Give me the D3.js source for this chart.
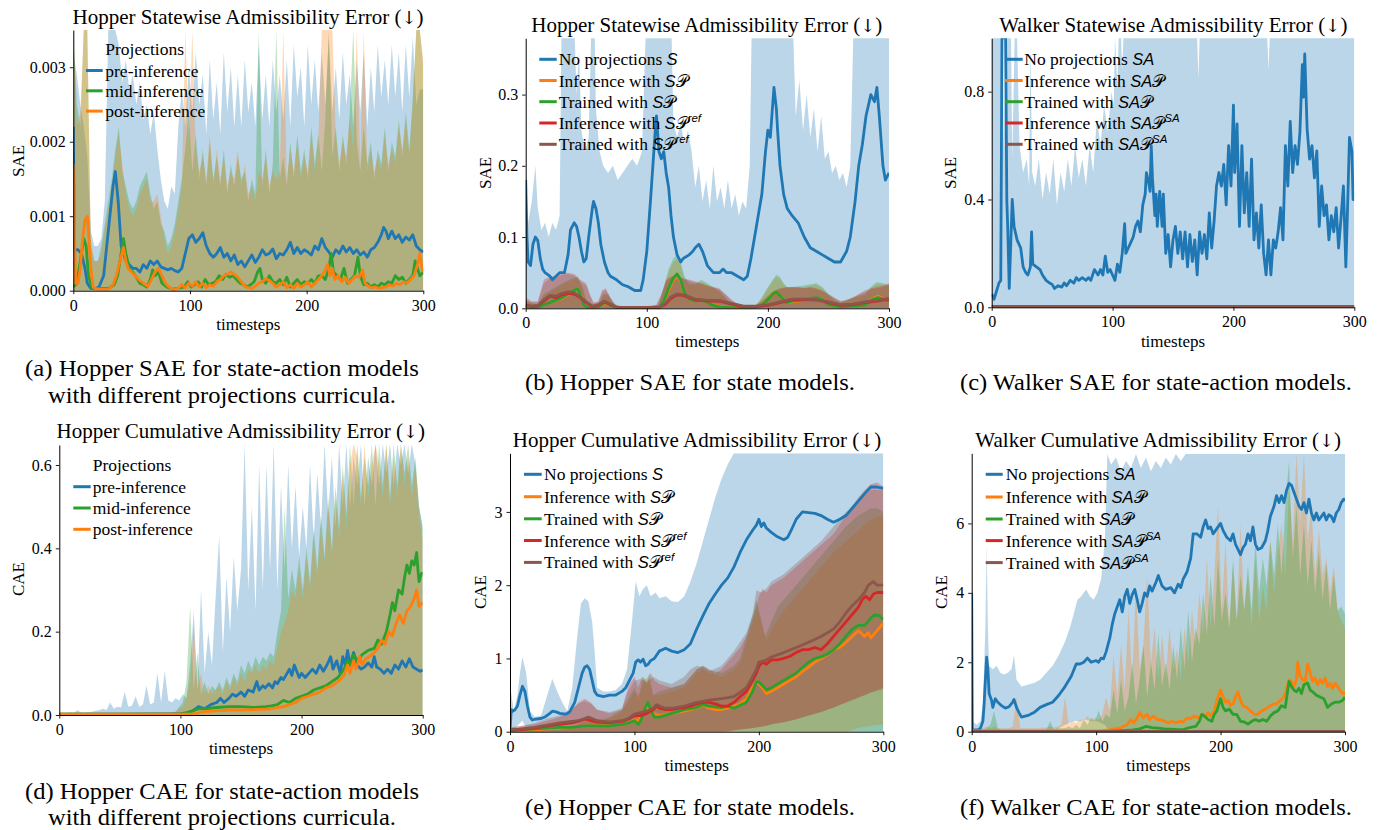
<!DOCTYPE html>
<html><head><meta charset="utf-8">
<script src="https://cdn.jsdelivr.net/npm/d3@7/dist/d3.min.js"></script>
<style>
html,body{margin:0;padding:0;background:#fff;}
svg{display:block;}
text{font-family:"Liberation Serif","Times New Roman",serif;fill:#000;white-space:pre;}
.tick text{font-size:16px;font-family:"Liberation Serif",serif;}
.title{font-size:21px;}
.arrow{font-family:"DejaVu Serif","DejaVu Sans",serif;font-size:18px;fill:#000;}
.axlab{font-size:17px;}
.leg{font-size:17.5px;}
.math{font-family:"Liberation Sans",sans-serif;font-style:italic;font-size:16.5px;}
.cal{font-family:"DejaVu Sans","Noto Sans",serif;font-style:normal;font-size:16.5px;}
.cap{font-size:23px;}
</style></head><body>
<svg id="chart" width="1380" height="830"></svg>
<script>
// ---------------- DATA ----------------
const xTicks=[0,100,200,300];
const COL={blue:'#1f77b4',orange:'#ff7f0e',green:'#2ca02c',red:'#d62728',brown:'#8c564b'};

// (a) Hopper SAE, state-action, projection curricula
const aPre=[[0,0.0022],[1,0.00055],[4,0.00055],[7,0.0005],[10,0.0003],[12,0.0001],[15,0.00003],[19,0.00003],[22,0.00005],[26,0.0002],[30,0.0008],[34,0.0014],[36,0.0016],[38.5,0.0012],[41,0.0006],[45,0.0004],[48,0.00035],[51,0.0003],[54,0.0003],[57,0.00025],[60,0.00035],[63,0.0003],[66,0.0004],[69,0.00035],[72,0.0004],[75,0.00032],[78,0.0003],[81,0.00028],[84,0.0003],[87,0.00027],[90,0.00025],[93,0.0003],[96,0.0005],[99,0.0007],[102,0.00075],[105,0.00065],[108,0.0007],[111,0.00078],[114,0.0006],[117,0.0005],[120,0.00045],[123,0.0005],[126,0.00058],[129,0.00045],[132,0.0005],[135,0.0004],[138,0.00048],[141,0.00035],[144,0.0004],[147,0.00032],[150,0.0004],[153,0.00048],[156,0.00038],[159,0.00045],[162,0.00055],[165,0.00048],[168,0.0005],[171,0.00056],[174,0.00043],[177,0.0005],[180,0.00048],[183,0.00055],[186,0.00065],[189,0.0005],[192,0.00058],[195,0.0005],[198,0.00055],[201,0.00052],[204,0.00048],[207,0.0006],[210,0.00055],[213,0.0007],[216,0.00058],[219,0.00052],[222,0.00045],[225,0.00055],[228,0.0005],[231,0.0006],[234,0.00052],[237,0.00058],[240,0.0005],[243,0.00055],[246,0.00048],[249,0.00052],[252,0.00045],[255,0.00055],[258,0.00058],[261,0.00065],[264,0.00075],[266,0.00085],[268,0.0008],[270,0.0007],[273,0.0008],[276,0.0007],[279,0.00075],[282,0.00065],[285,0.00072],[288,0.00068],[291,0.00075],[294,0.0006],[297,0.00055],[300,0.00052]];
const aMid=[[0,0.00005],[3,0.0001],[6,0.0004],[9,0.0007],[11,0.0006],[13,0.0002],[16,0.00003],[30,0.00003],[35,0.00008],[38,0.0002],[40,0.0004],[43,0.0007],[45,0.0005],[48,0.0003],[51,0.00025],[54,0.00018],[57,0.0001],[60,0.00008],[63,0.00005],[66,0.00015],[68,0.00028],[70,0.0002],[73,0.00025],[76,0.0001],[80,0.00005],[85,0.00002],[90,0.00003],[95,0.00005],[98,0.00012],[101,0.00005],[104,0.00008],[107,0.00012],[110,0.00005],[113,0.00015],[116,0.00008],[119,0.0001],[122,0.00012],[125,0.0002],[128,0.00015],[131,0.00022],[134,0.00018],[137,0.0002],[140,0.00015],[143,0.0001],[146,0.00008],[149,0.00005],[152,0.00008],[155,0.00012],[158,0.00025],[160,0.0003],[162,0.00015],[165,0.0001],[168,0.0002],[171,0.00012],[174,0.0001],[177,0.00015],[180,0.00008],[183,0.00018],[186,0.00005],[189,0.0001],[192,0.00015],[195,0.00008],[198,0.00012],[201,0.0001],[204,0.00015],[207,0.0001],[210,0.0002],[213,0.0002],[216,0.00015],[219,0.0003],[221,0.0005],[223,0.00025],[226,0.0002],[229,0.00015],[232,0.0003],[235,0.0001],[238,0.00015],[241,0.0002],[244,0.00045],[246,0.0002],[249,0.00008],[252,0.0001],[255,0.00005],[258,0.00008],[261,0.00005],[264,0.0001],[267,0.00008],[270,0.00012],[273,0.0001],[276,0.0002],[279,0.00015],[282,0.00018],[285,0.0001],[288,0.00015],[291,0.0002],[293,0.0004],[295,0.0003],[297,0.0002],[300,0.00025]];
const aPost=[[0,0.0017],[1,0.0008],[2,0.0001],[4,0.0001],[6,0.0003],[8,0.0007],[10,0.00095],[12,0.001],[13,0.0008],[15,0.0003],[17,0.00005],[20,0.00002],[30,0.00002],[34,0.00008],[37,0.0002],[40,0.0004],[43,0.00058],[45,0.0004],[47,0.0003],[50,0.00025],[53,0.0002],[56,0.00015],[60,0.0001],[64,0.00006],[67,0.00015],[70,0.00025],[73,0.0003],[76,0.0002],[79,0.0001],[82,0.00005],[86,0.00001],[90,0.00003],[93,0.00008],[96,0.00004],[99,0.0001],[102,0.00006],[105,0.00012],[108,0.00005],[111,0.0001],[114,0.00004],[117,0.00008],[120,0.00006],[123,0.00012],[126,0.00015],[129,0.0002],[132,0.00022],[135,0.00025],[138,0.00022],[141,0.00018],[144,0.00012],[147,0.00006],[150,0.00004],[153,0.00003],[156,0.00006],[159,0.0001],[162,0.00012],[165,0.00016],[168,0.00014],[171,0.0001],[174,0.00005],[177,0.00008],[180,0.00012],[183,0.00004],[186,0.00008],[189,0.00003],[192,0.0001],[195,0.00005],[198,0.00008],[201,0.00012],[204,0.00005],[207,0.0001],[210,0.00015],[213,0.0002],[216,0.00028],[218,0.00035],[220,0.0002],[222,0.0003],[224,0.00015],[227,0.0002],[230,0.00012],[233,0.00018],[236,0.0001],[239,0.00015],[242,0.0002],[245,0.00018],[248,0.00028],[250,0.0001],[253,0.00006],[256,0.00004],[259,0.00005],[262,0.00003],[265,0.00004],[268,0.00005],[271,0.00008],[274,0.00006],[277,0.0001],[280,0.00008],[283,0.00012],[286,0.0001],[289,0.00015],[292,0.0002],[295,0.00035],[297,0.0005],[299,0.0003],[300,0.00025]];
// band upper envelopes, evenly spaced over 0..300 (lower bound 0)
const aPreUpper=[0.0032,0.0029,0.0025,0.0022,0.0018,0.0008,0.0006,0.0006,0.0007,0.0012,0.0035,0.0035,0.0035,0.0033,0.0028,0.0031,0.0027,0.0029,0.0025,0.0028,0.0023,0.0025,0.0021,0.0024,0.0019,0.0015,0.0012,0.0011,0.0014,0.0013,0.0022,0.0027,0.0022,0.003,0.0024,0.0032,0.0025,0.0029,0.0021,0.0031,0.0023,0.0028,0.0021,0.0032,0.0024,0.003,0.0022,0.0029,0.0022,0.0031,0.0024,0.0028,0.0022,0.0033,0.0023,0.0029,0.0022,0.0031,0.0024,0.0029,0.0023,0.0031,0.0022,0.0033,0.0026,0.003,0.0022,0.0033,0.0025,0.0031,0.0024,0.0032,0.0025,0.0034,0.0024,0.003,0.0023,0.0032,0.0025,0.0029,0.0022,0.0031,0.0024,0.0032,0.0022,0.003,0.0024,0.0033,0.0026,0.0031,0.0025,0.0033,0.0026,0.0032,0.0024,0.0033,0.0026,0.0034,0.0025,0.0027,0.0027];
const aMidUpper=[0.0035,0.0025,0.0022,0.0035,0.0035,0.0006,0.0004,0.0004,0.0006,0.0009,0.0012,0.0015,0.0019,0.0022,0.0016,0.0014,0.0012,0.0011,0.0012,0.0014,0.0015,0.0016,0.0013,0.0011,0.0012,0.0009,0.0008,0.0006,0.0007,0.0009,0.0012,0.0015,0.0019,0.0024,0.0016,0.0021,0.0015,0.0019,0.0014,0.002,0.0015,0.0018,0.0014,0.0019,0.0013,0.0017,0.0014,0.0018,0.0015,0.0016,0.0012,0.0015,0.0013,0.0035,0.0014,0.0019,0.0013,0.0017,0.0035,0.0015,0.0018,0.0014,0.002,0.0015,0.0021,0.0016,0.0019,0.0015,0.0022,0.0017,0.0021,0.0016,0.0023,0.0035,0.0018,0.0022,0.0016,0.0021,0.0017,0.0024,0.0035,0.002,0.0016,0.0022,0.0017,0.002,0.0015,0.0019,0.0017,0.0022,0.0016,0.002,0.0018,0.0023,0.0018,0.0024,0.0019,0.0026,0.0035,0.0035,0.003];
const aPostUpper=[0.0035,0.0022,0.0024,0.0035,0.0035,0.0007,0.0004,0.0004,0.0005,0.0008,0.0011,0.0014,0.0018,0.0021,0.0017,0.0013,0.0011,0.001,0.0011,0.0013,0.0014,0.0015,0.0012,0.0012,0.0013,0.001,0.0007,0.0005,0.0006,0.0008,0.0011,0.0014,0.0035,0.002,0.0035,0.0019,0.0016,0.0018,0.0015,0.0021,0.0014,0.0019,0.0015,0.0018,0.0014,0.0016,0.0015,0.0019,0.0014,0.0017,0.0013,0.0014,0.0012,0.0016,0.0015,0.0018,0.0014,0.0016,0.0015,0.0016,0.0035,0.0015,0.0019,0.0016,0.002,0.0015,0.0018,0.0016,0.0021,0.0016,0.002,0.0035,0.0035,0.0035,0.0035,0.0021,0.0017,0.002,0.0018,0.0023,0.0019,0.0035,0.0017,0.0035,0.0016,0.0019,0.0016,0.0018,0.0016,0.0021,0.0017,0.0019,0.0017,0.0022,0.0019,0.0023,0.0018,0.0025,0.0035,0.0035,0.0031];

// (b) Hopper SAE, state models
const bNoProj=[[0,0.18],[1,0.1],[2,0.065],[4,0.06],[6,0.09],[8,0.1],[10,0.095],[12,0.07],[14,0.055],[16,0.05],[20,0.045],[22,0.04],[25,0.045],[28,0.05],[32,0.05],[35,0.075],[37,0.11],[40,0.12],[42,0.115],[44,0.1],[46,0.08],[48,0.065],[50,0.07],[52,0.1],[55,0.14],[56,0.15],[58,0.14],[60,0.12],[62,0.09],[65,0.065],[68,0.05],[70,0.045],[75,0.04],[80,0.033],[85,0.03],[90,0.025],[95,0.025],[97,0.04],[100,0.08],[103,0.15],[105,0.2],[107,0.25],[108,0.27],[110,0.22],[112,0.21],[114,0.22],[116,0.19],[118,0.17],[120,0.13],[122,0.1],[125,0.075],[128,0.065],[130,0.07],[135,0.075],[138,0.08],[140,0.085],[143,0.09],[146,0.08],[150,0.06],[155,0.05],[160,0.05],[163,0.055],[166,0.05],[170,0.05],[175,0.045],[180,0.04],[183,0.045],[186,0.07],[190,0.11],[193,0.14],[195,0.16],[198,0.22],[200,0.25],[202,0.24],[205,0.31],[207,0.28],[208,0.25],[210,0.2],[213,0.16],[216,0.14],[220,0.13],[225,0.12],[230,0.1],[235,0.085],[240,0.08],[245,0.075],[250,0.07],[255,0.065],[260,0.065],[265,0.08],[268,0.1],[272,0.15],[275,0.2],[278,0.23],[281,0.27],[285,0.3],[288,0.29],[290,0.31],[292,0.27],[295,0.2],[297,0.18],[300,0.19]];
const bNoProjBand=[[0,0.2],[2,0.12],[5,0.15],[8,0.2],[10,0.14],[13,0.11],[16,0.12],[19,0.1],[22,0.12],[25,0.11],[28,0.13],[29.5,0.38],[40.5,0.38],[42,0.3],[44,0.36],[46,0.25],[49,0.22],[52,0.24],[54,0.38],[57,0.38],[58,0.28],[61,0.22],[64,0.2],[68,0.19],[72,0.2],[76,0.18],[80,0.19],[84,0.2],[88,0.21],[92,0.2],[96,0.22],[99,0.38],[120.5,0.38],[122,0.26],[125,0.24],[128,0.26],[131,0.23],[134,0.25],[137,0.22],[140,0.17],[143,0.2],[146,0.15],[149,0.18],[152,0.14],[155,0.2],[158,0.15],[161,0.17],[164,0.14],[167,0.18],[170,0.14],[173,0.16],[176,0.13],[179,0.15],[182,0.14],[185,0.2],[186.5,0.38],[221,0.38],[223,0.27],[226,0.32],[229,0.25],[232,0.3],[235,0.24],[238,0.28],[241,0.22],[244,0.27],[247,0.21],[250,0.22],[253,0.19],[256,0.2],[259,0.18],[262,0.19],[265,0.17],[268,0.2],[270.5,0.38],[300,0.38]];
const bInfSP=[[0,0.002],[10,0.002],[15,0.005],[20,0.008],[30,0.014],[38,0.022],[43,0.025],[46,0.018],[49,0.005],[52,0.001],[60,0.001],[64,0.006],[67,0.007],[71,0.003],[76,0.0005],[110,0.0005],[114,0.008],[118,0.025],[122,0.04],[125,0.046],[128,0.038],[131,0.02],[135,0.013],[140,0.01],[145,0.012],[150,0.008],[155,0.005],[160,0.003],[170,0.001],[190,0.001],[196,0.006],[200,0.012],[204,0.02],[207,0.023],[211,0.016],[215,0.008],[220,0.009],[230,0.011],[240,0.014],[245,0.012],[250,0.005],[260,0.002],[270,0.003],[280,0.006],[287,0.014],[291,0.017],[295,0.014],[300,0.011]];
const bInfSPBand=[[0,0.01],[10,0.005],[15,0.018],[20,0.023],[30,0.033],[38,0.04],[43,0.042],[47,0.028],[50,0.01],[55,0.003],[60,0.005],[64,0.018],[68,0.018],[72,0.007],[78,0.002],[100,0.002],[110,0.005],[114,0.028],[118,0.05],[122,0.065],[125,0.068],[128,0.06],[131,0.042],[135,0.033],[140,0.033],[145,0.037],[150,0.033],[155,0.028],[160,0.023],[165,0.014],[170,0.005],[180,0.002],[190,0.004],[195,0.014],[200,0.028],[204,0.038],[207,0.044],[210,0.041],[213,0.033],[216,0.028],[220,0.028],[230,0.03],[240,0.033],[245,0.028],[250,0.018],[255,0.011],[260,0.007],[270,0.014],[280,0.018],[285,0.028],[290,0.034],[295,0.033],[300,0.031]];
const bTrSP=[[0,0.001],[10,0.001],[15,0.005],[20,0.008],[30,0.015],[37,0.022],[41,0.026],[43,0.027],[45,0.02],[48,0.005],[51,0.001],[60,0.001],[64,0.007],[67,0.008],[71,0.003],[76,0.0005],[110,0.0005],[114,0.01],[118,0.028],[122,0.043],[125,0.048],[128,0.04],[131,0.022],[135,0.013],[140,0.01],[145,0.012],[150,0.008],[155,0.004],[160,0.002],[170,0.001],[190,0.001],[196,0.006],[200,0.012],[204,0.02],[207,0.023],[211,0.016],[215,0.008],[220,0.01],[230,0.012],[240,0.015],[245,0.012],[250,0.005],[260,0.002],[270,0.003],[280,0.005],[287,0.013],[291,0.015],[295,0.013],[300,0.01]];
const bTrSPBand=[[0,0.01],[10,0.005],[15,0.02],[20,0.025],[30,0.035],[38,0.042],[43,0.045],[47,0.03],[50,0.01],[55,0.003],[60,0.005],[64,0.02],[68,0.02],[72,0.008],[78,0.002],[100,0.002],[110,0.005],[114,0.03],[118,0.055],[122,0.07],[125,0.075],[128,0.065],[131,0.045],[135,0.035],[140,0.035],[145,0.04],[150,0.035],[155,0.03],[160,0.025],[165,0.015],[170,0.005],[180,0.002],[190,0.004],[195,0.015],[200,0.03],[204,0.04],[207,0.047],[210,0.044],[213,0.035],[216,0.03],[220,0.03],[230,0.032],[240,0.035],[245,0.03],[250,0.02],[255,0.012],[260,0.008],[270,0.015],[280,0.02],[285,0.03],[290,0.037],[295,0.035],[300,0.033]];
const bInfRef=[[0,0.005],[5,0.002],[10,0.003],[15,0.01],[20,0.017],[25,0.015],[30,0.019],[35,0.021],[40,0.02],[45,0.015],[50,0.008],[55,0.002],[60,0.004],[65,0.009],[70,0.005],[75,0.001],[95,0.001],[110,0.001],[115,0.005],[120,0.014],[125,0.019],[130,0.018],[135,0.015],[140,0.012],[150,0.01],[160,0.01],[170,0.006],[180,0.002],[190,0.002],[200,0.004],[210,0.008],[220,0.012],[230,0.012],[240,0.012],[250,0.008],[260,0.004],[270,0.005],[280,0.008],[290,0.01],[300,0.013]];
const bInfRefBand=[[0,0.015],[5,0.01],[10,0.01],[15,0.04],[20,0.045],[25,0.045],[30,0.05],[35,0.05],[40,0.048],[45,0.04],[50,0.035],[53,0.02],[56,0.008],[60,0.01],[63,0.025],[66,0.028],[70,0.015],[74,0.005],[80,0.003],[90,0.003],[100,0.003],[108,0.005],[112,0.02],[116,0.04],[120,0.045],[125,0.045],[130,0.042],[135,0.04],[140,0.038],[145,0.035],[150,0.032],[155,0.03],[160,0.028],[165,0.02],[170,0.012],[175,0.006],[180,0.003],[185,0.003],[190,0.005],[195,0.01],[200,0.018],[205,0.025],[210,0.028],[215,0.03],[220,0.03],[225,0.03],[230,0.028],[235,0.03],[240,0.028],[245,0.025],[250,0.02],[255,0.015],[260,0.01],[265,0.012],[270,0.015],[275,0.02],[280,0.025],[285,0.028],[290,0.03],[295,0.032],[300,0.035]];
const bTrRef=[[0,0.004],[5,0.003],[10,0.004],[15,0.012],[20,0.018],[25,0.017],[30,0.021],[35,0.023],[40,0.022],[45,0.016],[50,0.009],[55,0.003],[60,0.005],[65,0.01],[70,0.006],[75,0.001],[95,0.001],[110,0.001],[115,0.006],[120,0.016],[125,0.02],[130,0.019],[135,0.016],[140,0.013],[150,0.011],[160,0.011],[170,0.007],[180,0.003],[190,0.003],[200,0.005],[210,0.009],[220,0.013],[230,0.013],[240,0.012],[250,0.009],[260,0.005],[270,0.006],[280,0.009],[290,0.011],[300,0.014]];
const bTrRefBand=[[0,0.012],[5,0.008],[10,0.009],[15,0.035],[20,0.042],[25,0.043],[30,0.047],[35,0.048],[40,0.046],[45,0.038],[50,0.032],[53,0.018],[56,0.007],[60,0.009],[63,0.022],[66,0.026],[70,0.014],[74,0.004],[80,0.003],[90,0.003],[100,0.003],[108,0.004],[112,0.018],[116,0.038],[120,0.043],[125,0.044],[130,0.041],[135,0.039],[140,0.036],[145,0.034],[150,0.031],[155,0.029],[160,0.026],[165,0.019],[170,0.011],[175,0.005],[180,0.003],[185,0.003],[190,0.004],[195,0.009],[200,0.016],[205,0.023],[210,0.027],[215,0.029],[220,0.03],[225,0.029],[230,0.028],[235,0.029],[240,0.027],[245,0.024],[250,0.019],[255,0.014],[260,0.01],[265,0.011],[270,0.014],[275,0.019],[280,0.023],[285,0.026],[290,0.028],[295,0.03],[300,0.033]];

// (c) Walker SAE, state-action models
const cNoProj=[[0,0.05],[2,0.03],[4,0.06],[6,0.09],[7.5,0.1],[8.5,1.0],[11.5,1.0],[12.5,0.4],[13.3,0.29],[14.5,0.07],[15.5,0.2],[17,0.4],[18.5,0.3],[21,0.25],[24,0.22],[26,0.15],[28,0.13],[30,0.12],[32,0.15],[33,0.28],[34,0.16],[37,0.15],[40,0.14],[42,0.12],[45,0.1],[48,0.09],[50,0.085],[52,0.07],[55,0.08],[58,0.075],[60,0.09],[62,0.08],[65,0.1],[68,0.09],[70,0.11],[72,0.1],[75,0.11],[78,0.1],[80,0.11],[82,0.1],[85,0.14],[88,0.12],[90,0.14],[92,0.12],[94,0.19],[96,0.13],[98,0.14],[100,0.12],[102,0.1],[104,0.16],[106,0.13],[108,0.2],[110,0.31],[111,0.2],[113,0.22],[115,0.24],[117,0.26],[119,0.3],[121,0.32],[123,0.28],[125,0.38],[127,0.42],[128,0.5],[130,0.46],[131,0.43],[132,0.6],[133,0.48],[135,0.34],[136,0.42],[137,0.3],[139,0.43],[141,0.3],[142,0.42],[144,0.2],[146,0.27],[148,0.15],[150,0.25],[152,0.3],[154,0.2],[156,0.28],[158,0.18],[160,0.28],[162,0.15],[164,0.27],[166,0.17],[168,0.25],[170,0.12],[172,0.28],[174,0.2],[176,0.27],[178,0.18],[180,0.35],[182,0.22],[184,0.32],[186,0.45],[188,0.5],[190,0.45],[192,0.53],[194,0.38],[196,0.6],[198,0.45],[200,0.75],[201,0.5],[203,0.68],[205,0.3],[207,0.6],[209,0.35],[211,0.5],[213,0.3],[215,0.55],[217,0.25],[219,0.35],[221,0.22],[223,0.38],[225,0.2],[227,0.12],[229,0.25],[231,0.12],[233,0.25],[235,0.22],[237,0.28],[239,0.37],[241,0.25],[243,0.6],[245,0.45],[247,0.69],[249,0.5],[251,0.6],[253,0.53],[255,0.65],[257,0.9],[258,0.78],[259,0.94],[261,0.66],[263,0.55],[265,0.6],[267,0.48],[269,0.58],[271,0.3],[273,0.45],[275,0.34],[277,0.38],[279,0.25],[281,0.34],[283,0.28],[285,0.37],[287,0.22],[289,0.33],[291,0.45],[293,0.15],[294,0.3],[296,0.63],[298,0.58],[299,0.4],[300,0.4]];
const cNoProjBand=[[0,1.0],[9,1.0],[10,0.6],[12,1.0],[16,1.0],[17,0.55],[19,1.0],[21,1.0],[23,0.6],[26,0.5],[29,0.55],[31,0.45],[32,0.98],[33.5,0.5],[36,0.45],[39,0.55],[42,0.4],[45,0.5],[48,0.42],[51,0.55],[54,0.38],[57,0.5],[60,0.43],[63,0.55],[66,0.45],[69,0.6],[72,0.48],[75,0.55],[78,0.45],[81,0.6],[84,0.5],[87,0.7],[90,0.6],[93,0.75],[96,0.65],[99,0.8],[101,0.75],[102,1.0],[104,0.82],[105,1.0],[107,1.0],[108,0.88],[109,1.0],[170,1.0],[171,0.85],[172,1.0],[228,1.0],[229,0.88],[230,1.0],[300,1.0]];
const cInfSAP=[[0,0.003],[300,0.003]];
const cTrSAP=[[0,0.003],[300,0.003]];
const cInfRef=[[0,0.003],[300,0.003]];
const cTrRef=[[0,0.003],[300,0.003]];

// (d) Hopper CAE, state-action, projection curricula
const dPre=[[0,0.002],[50,0.002],[100,0.003],[105,0.005],[110,0.01],[115,0.02],[120,0.015],[125,0.025],[130,0.03],[133,0.04],[136,0.03],[140,0.04],[143,0.05],[146,0.045],[150,0.055],[153,0.045],[156,0.06],[160,0.055],[163,0.08],[165,0.06],[168,0.07],[170,0.065],[173,0.075],[176,0.065],[178,0.08],[180,0.075],[183,0.09],[185,0.085],[188,0.1],[190,0.11],[192,0.095],[194,0.12],[196,0.105],[198,0.09],[200,0.1],[203,0.09],[206,0.1],[209,0.11],[212,0.1],[215,0.12],[218,0.105],[221,0.12],[224,0.14],[226,0.11],[229,0.13],[232,0.1],[234,0.14],[236,0.12],[238,0.155],[240,0.12],[243,0.15],[246,0.12],[249,0.11],[252,0.115],[255,0.125],[258,0.115],[260,0.14],[262,0.115],[265,0.11],[268,0.1],[271,0.11],[274,0.1],[277,0.12],[280,0.11],[283,0.13],[286,0.115],[289,0.135],[292,0.115],[295,0.11],[298,0.105],[300,0.108]];
const dMid=[[0,0.002],[100,0.002],[105,0.005],[110,0.01],[115,0.015],[120,0.015],[130,0.018],[140,0.02],[150,0.02],[160,0.018],[170,0.02],[175,0.022],[180,0.025],[185,0.035],[190,0.03],[195,0.04],[200,0.045],[205,0.05],[210,0.06],[215,0.065],[220,0.07],[225,0.08],[230,0.09],[235,0.11],[238,0.13],[240,0.12],[243,0.145],[246,0.13],[250,0.145],[255,0.155],[260,0.16],[263,0.18],[266,0.17],[270,0.2],[273,0.24],[275,0.27],[277,0.25],[280,0.3],[283,0.29],[285,0.33],[287,0.36],[289,0.34],[291,0.37],[293,0.36],[295,0.39],[296,0.35],[297,0.32],[299,0.34],[300,0.34]];
const dPost=[[0,0.002],[110,0.002],[115,0.005],[120,0.008],[130,0.01],[140,0.012],[150,0.012],[160,0.013],[170,0.014],[175,0.015],[180,0.018],[185,0.02],[190,0.025],[195,0.03],[200,0.04],[205,0.045],[210,0.05],[215,0.055],[220,0.065],[225,0.07],[230,0.08],[235,0.095],[238,0.12],[240,0.1],[243,0.13],[245,0.11],[248,0.14],[250,0.12],[253,0.135],[256,0.14],[260,0.15],[263,0.16],[266,0.18],[269,0.17],[272,0.2],[275,0.19],[278,0.22],[281,0.24],[284,0.22],[287,0.25],[290,0.26],[293,0.28],[295,0.3],[297,0.26],[300,0.27]];
const dPreUpper=[0.005,0.004,0.005,0.006,0.005,0.012,0.006,0.006,0.007,0.008,0.01,0.012,0.015,0.012,0.03,0.015,0.02,0.018,0.055,0.02,0.022,0.045,0.02,0.025,0.07,0.025,0.03,0.1,0.03,0.105,0.035,0.03,0.04,0.035,0.05,0.04,0.12,0.25,0.06,0.3,0.1,0.2,0.12,0.28,0.43,0.15,0.33,0.2,0.38,0.25,0.35,0.65,0.3,0.5,0.25,0.6,0.3,0.6,0.35,0.65,0.3,0.55,0.35,0.6,0.4,0.55,0.38,0.5,0.4,0.6,0.42,0.58,0.45,0.65,0.48,0.62,0.45,0.65,0.5,0.65,0.5,0.62,0.55,0.65,0.5,0.62,0.55,0.65,0.55,0.65,0.58,0.65,0.55,0.65,0.6,0.65,0.58,0.65,0.6,0.5,0.45];
const dMidUpper=[0.004,0.003,0.003,0.003,0.003,0.003,0.003,0.003,0.003,0.003,0.003,0.003,0.003,0.003,0.003,0.003,0.003,0.003,0.003,0.003,0.003,0.003,0.003,0.003,0.003,0.003,0.003,0.004,0.004,0.004,0.005,0.006,0.008,0.02,0.03,0.08,0.26,0.06,0.15,0.05,0.08,0.05,0.07,0.06,0.08,0.06,0.09,0.07,0.1,0.08,0.12,0.1,0.13,0.11,0.14,0.12,0.14,0.13,0.15,0.14,0.2,0.25,0.5,0.28,0.35,0.3,0.38,0.3,0.4,0.32,0.45,0.35,0.48,0.38,0.52,0.4,0.55,0.45,0.6,0.48,0.65,0.5,0.65,0.52,0.62,0.55,0.65,0.5,0.65,0.55,0.65,0.52,0.65,0.55,0.65,0.58,0.65,0.55,0.62,0.5,0.45];
const dPostUpper=[0.004,0.003,0.003,0.003,0.003,0.003,0.003,0.003,0.003,0.003,0.003,0.003,0.003,0.003,0.003,0.003,0.003,0.003,0.003,0.003,0.003,0.003,0.003,0.003,0.003,0.003,0.003,0.004,0.004,0.004,0.005,0.006,0.008,0.015,0.02,0.04,0.08,0.22,0.06,0.1,0.05,0.07,0.05,0.06,0.07,0.05,0.08,0.06,0.09,0.07,0.1,0.08,0.11,0.1,0.12,0.1,0.12,0.11,0.13,0.12,0.16,0.2,0.22,0.25,0.3,0.28,0.35,0.28,0.38,0.3,0.42,0.33,0.45,0.36,0.5,0.38,0.52,0.42,0.58,0.45,0.6,0.65,0.62,0.5,0.65,0.52,0.6,0.65,0.6,0.52,0.65,0.5,0.62,0.52,0.65,0.55,0.62,0.52,0.6,0.48,0.42];

// (e) Hopper CAE, state models  (bands: [t, lower, upper])
const eNoProj=[[0,0.0],[1,0.3],[2,0.28],[4,0.3],[6,0.35],[8,0.5],[10,0.62],[12,0.55],[14,0.35],[16,0.2],[18,0.16],[20,0.17],[25,0.18],[28,0.2],[32,0.25],[34,0.28],[37,0.27],[40,0.25],[45,0.24],[48,0.27],[52,0.4],[55,0.6],[58,0.8],[60,0.88],[62,0.9],[64,0.85],[66,0.7],[68,0.55],[70,0.5],[75,0.48],[80,0.5],[85,0.5],[90,0.55],[93,0.6],[96,0.7],[99,0.8],[101,0.95],[103,0.98],[105,0.95],[107,0.99],[109,0.9],[111,0.92],[113,0.97],[116,1.0],[120,1.1],[125,1.14],[130,1.1],[135,1.08],[140,1.12],[145,1.2],[150,1.4],[155,1.58],[160,1.75],[165,1.88],[170,2.0],[175,2.1],[180,2.25],[185,2.45],[190,2.62],[195,2.75],[198,2.82],[200,2.9],[202,2.8],[204,2.85],[206,2.78],[210,2.72],[215,2.66],[220,2.62],[223,2.65],[226,2.75],[230,2.9],[235,3.0],[240,2.99],[245,2.98],[250,2.95],[255,2.9],[260,2.86],[265,2.9],[270,2.95],[275,3.05],[280,3.15],[285,3.25],[290,3.34],[295,3.34],[300,3.32]];
const eNoProjBand=[[0,0,0.65],[3,0.02,0.28],[6,0.08,0.5],[8,0.12,0.8],[10,0.15,1.02],[13,0.05,0.8],[16,0,0.28],[20,0,0.2],[25,0,0.22],[30,0,0.5],[34,0,0.72],[38,0,0.55],[42,0,0.4],[46,0,0.28],[50,0,0.6],[54,0,1.3],[57,0,1.75],[60,0,1.82],[63,0,1.78],[66,0,1.5],[68,0,1.1],[70,0,0.6],[75,0,0.55],[80,0,0.55],[85,0,0.57],[90,0,0.65],[94,0,0.85],[98,0,1.5],[101,0,2.05],[104,0,1.85],[107,0,1.95],[110,0,2.0],[113,0,1.85],[117,0,1.9],[120,0,1.82],[125,0,1.85],[130,0,1.78],[135,0,1.77],[140,0,1.85],[145,0,2.05],[150,0,2.3],[155,0,2.6],[160,0,2.9],[165,0,3.2],[170,0,3.45],[175,0,3.65],[180,0,3.8],[300,0,3.8]];
const eInfSP=[[0,0.02],[10,0.02],[20,0.03],[30,0.04],[40,0.05],[50,0.06],[60,0.08],[70,0.08],[80,0.1],[90,0.12],[95,0.13],[100,0.16],[103,0.15],[106,0.25],[108,0.3],[110,0.35],[112,0.3],[115,0.25],[120,0.22],[130,0.25],[140,0.28],[150,0.32],[155,0.36],[160,0.32],[165,0.3],[170,0.3],[175,0.32],[180,0.35],[185,0.38],[190,0.45],[195,0.6],[198,0.68],[200,0.65],[203,0.6],[206,0.52],[210,0.55],[215,0.6],[220,0.65],[225,0.7],[230,0.75],[235,0.82],[240,0.88],[245,0.95],[250,1.0],[255,1.05],[260,1.12],[265,1.15],[270,1.22],[275,1.3],[280,1.38],[285,1.3],[288,1.35],[290,1.28],[295,1.38],[300,1.48]];
const eInfSPBand=[[0,0,0.05],[20,0,0.05],[40,0,0.06],[50,0,0.08],[60,0,0.13],[70,0,0.14],[80,0,0.18],[90,0,0.28],[95,0,0.4],[100,0,0.55],[104,0,0.5],[108,0,0.7],[111,0,0.75],[115,0,0.5],[120,0,0.5],[130,0,0.55],[140,0,0.6],[150,0,0.8],[155,0,0.85],[160,0,0.8],[170,0,0.75],[180,0,0.85],[185,0,0.95],[190,0,1.2],[195,0,1.5],[198,0,1.7],[202,0,1.5],[206,0,1.25],[210,0,1.4],[220,0,1.65],[230,0,1.85],[240,0,2.05],[250,0,2.25],[260,0,2.45],[270,0,2.6],[280,0.05,2.75],[290,0.08,2.9],[300,0.1,2.95]];
const eTrSP=[[0,0.03],[10,0.03],[20,0.04],[30,0.05],[40,0.06],[50,0.06],[60,0.08],[70,0.08],[80,0.08],[90,0.1],[95,0.12],[100,0.15],[103,0.1],[105,0.15],[108,0.3],[111,0.4],[113,0.3],[116,0.2],[120,0.2],[130,0.25],[140,0.3],[150,0.33],[155,0.37],[160,0.35],[170,0.33],[175,0.35],[180,0.32],[185,0.36],[190,0.4],[195,0.55],[198,0.68],[200,0.68],[203,0.63],[206,0.57],[210,0.6],[215,0.65],[220,0.7],[225,0.75],[230,0.8],[235,0.88],[240,0.95],[245,1.0],[250,1.02],[255,1.06],[260,1.12],[265,1.2],[270,1.3],[275,1.4],[280,1.45],[285,1.45],[290,1.55],[293,1.6],[297,1.58],[300,1.53]];
const eTrSPBand=[[0,0,0.05],[20,0,0.05],[40,0,0.06],[50,0,0.08],[55,0,0.1],[60,0,0.15],[70,0,0.15],[80,0,0.2],[90,0,0.3],[95,0,0.45],[100,0,0.6],[103,0,0.45],[107,0,0.75],[110,0,0.7],[112,0,0.8],[115,0,0.5],[120,0,0.55],[130,0,0.6],[140,0,0.65],[150,0,0.85],[155,0,0.9],[160,0,0.85],[170,0,0.8],[175,0,0.85],[180,0,0.9],[185,0,1.0],[190,0,1.3],[195,0,1.6],[198,0,1.8],[201,0,1.6],[205,0,1.3],[210,0,1.5],[215,0,1.7],[220,0,1.8],[230,0,2.0],[240,0,2.2],[250,0,2.4],[260,0,2.6],[270,0,2.8],[280,0,2.95],[290,0,3.05],[295,0,3.05],[300,0,3.0]];
const eInfRef=[[0,0.02],[10,0.03],[20,0.05],[30,0.08],[40,0.1],[50,0.12],[55,0.14],[60,0.17],[63,0.16],[70,0.13],[80,0.12],[90,0.14],[95,0.17],[100,0.22],[105,0.22],[110,0.25],[115,0.3],[118,0.35],[120,0.32],[125,0.3],[130,0.3],[135,0.32],[140,0.33],[145,0.35],[150,0.38],[155,0.4],[160,0.4],[165,0.38],[170,0.35],[175,0.35],[180,0.4],[185,0.48],[190,0.55],[195,0.7],[198,0.8],[200,0.89],[203,0.95],[206,0.92],[210,0.98],[215,0.98],[220,1.0],[225,1.03],[230,1.08],[235,1.12],[240,1.12],[245,1.15],[250,1.12],[255,1.2],[260,1.3],[265,1.4],[270,1.5],[275,1.6],[280,1.7],[283,1.8],[286,1.85],[289,1.8],[292,1.88],[295,1.9],[300,1.9]];
const eInfRefBand=[[0,0,0.05],[10,0,0.08],[20,0,0.1],[30,0,0.15],[40,0,0.2],[50,0,0.3],[55,0,0.4],[60,0,0.45],[65,0,0.4],[70,0,0.3],[80,0,0.25],[90,0,0.3],[93,0,0.5],[96,0,0.65],[100,0,0.75],[103,0,0.6],[106,0,0.75],[110,0,0.65],[113,0,0.8],[116,0,0.7],[120,0,0.65],[130,0,0.6],[140,0,0.65],[145,0,0.75],[150,0,0.85],[155,0,0.9],[160,0,0.85],[165,0,0.8],[170,0,0.85],[175,0,0.95],[180,0.02,1.05],[185,0.03,1.15],[190,0.04,1.3],[195,0.05,1.55],[200,0.06,1.85],[203,0.07,1.95],[206,0.08,1.9],[210,0.1,2.0],[220,0.13,2.1],[230,0.17,2.25],[240,0.22,2.4],[250,0.27,2.55],[260,0.33,2.7],[270,0.4,2.95],[280,0.47,3.2],[285,0.5,3.3],[290,0.54,3.38],[295,0.57,3.4],[300,0.6,3.35]];
const eTrRef=[[0,0.02],[20,0.06],[40,0.12],[55,0.15],[60,0.18],[63,0.2],[70,0.15],[80,0.13],[90,0.15],[95,0.18],[100,0.24],[110,0.28],[115,0.32],[118,0.37],[120,0.35],[125,0.32],[130,0.32],[140,0.35],[150,0.4],[160,0.43],[170,0.45],[180,0.48],[190,0.6],[195,0.75],[198,0.85],[200,0.95],[205,0.97],[210,1.02],[220,1.08],[230,1.15],[240,1.22],[250,1.3],[260,1.4],[265,1.5],[270,1.62],[275,1.72],[280,1.8],[285,1.9],[288,2.0],[292,2.05],[295,2.0],[300,2.0]];
const eTrRefBand=[[0,0,0.06],[10,0,0.08],[20,0,0.12],[30,0,0.18],[40,0,0.22],[50,0,0.32],[55,0,0.38],[60,0,0.42],[65,0,0.38],[70,0,0.3],[80,0,0.27],[90,0,0.32],[95,0,0.55],[100,0,0.7],[105,0,0.72],[110,0,0.68],[115,0,0.75],[120,0,0.7],[130,0,0.65],[140,0,0.75],[145,0,0.85],[150,0,0.9],[155,0,0.88],[160,0,0.82],[170,0,0.9],[180,0.02,1.1],[190,0.04,1.35],[195,0.05,1.6],[198,0.06,1.93],[202,0.07,1.9],[206,0.08,1.95],[210,0.1,2.05],[220,0.13,2.15],[230,0.17,2.3],[240,0.22,2.45],[250,0.27,2.6],[260,0.33,2.8],[270,0.4,3.0],[280,0.46,3.15],[290,0.53,3.3],[300,0.58,3.3]];

// (f) Walker CAE, state-action models
const fNoProj=[[0,4.0],[0.5,0.05],[3,0.05],[5,0.05],[7,0.1],[9,0.3],[10,0.8],[11,1.5],[12,2.15],[13,1.8],[14,1.1],[16,0.9],[17,0.7],[19,0.95],[21,0.85],[24,0.75],[27,0.68],[30,0.72],[33,0.85],[34,0.93],[36,0.7],[38,0.55],[40,0.42],[43,0.45],[46,0.48],[50,0.55],[55,0.7],[60,0.78],[65,0.85],[70,1.05],[75,1.3],[80,1.6],[84,1.95],[87,1.95],[90,2.0],[93,2.12],[96,2.0],[100,2.05],[102,2.0],[104,2.12],[106,2.1],[108,2.3],[111,2.7],[113,3.1],[115,3.4],[117,3.6],[119,3.8],[121,3.45],[123,3.9],[125,4.1],[127,3.7],[129,3.95],[131,4.1],[133,3.8],[135,3.45],[137,3.7],[139,4.0],[141,3.9],[143,4.2],[145,4.05],[148,4.3],[150,4.5],[153,4.2],[156,4.1],[160,4.15],[163,4.0],[166,4.25],[168,4.15],[170,4.4],[173,4.6],[176,5.0],[178,5.7],[181,5.7],[184,5.6],[186,5.9],[188,6.1],[190,5.85],[192,5.9],[194,5.7],[196,5.8],[198,5.9],[200,6.0],[202,5.8],[205,5.6],[208,5.5],[210,5.7],[212,5.4],[214,5.25],[216,5.1],[218,5.3],[220,5.4],[222,5.7],[224,5.5],[226,5.9],[228,5.4],[230,5.25],[233,5.3],[236,5.5],[238,5.8],[240,6.2],[243,6.5],[245,6.8],[247,6.6],[249,6.8],[251,6.6],[253,6.95],[255,7.15],[257,7.1],[259,6.9],[261,6.7],[263,6.5],[265,6.4],[267,6.6],[269,6.3],[271,6.7],[273,6.3],[275,6.1],[277,6.3],[279,6.1],[281,6.2],[283,6.3],[285,6.1],[287,6.25],[289,6.2],[291,6.05],[293,6.3],[295,6.4],[297,6.6],[299,6.7],[300,6.65]];
const fNoProjBand=[[0,0,8],[0.7,0,0.3],[4,0,0.2],[7,0,0.3],[9,0,0.8],[11,0,3.0],[12,0,5.4],[13,0,3.0],[14,0,1.9],[17,0,1.8],[20,0,1.9],[23,0,1.7],[26,0,1.65],[29,0,1.7],[32,0,1.8],[34,0,2.2],[36,0,1.5],[40,0,1.3],[45,0,1.35],[50,0,1.4],[55,0,1.5],[60,0,1.7],[65,0,1.9],[70,0.1,2.2],[75,0.2,2.6],[79,0.25,3.0],[82,0.3,3.4],[85,0.3,3.8],[88,0.3,3.9],[92,0.35,4.1],[95,0.3,3.9],[98,0.3,3.8],[101,0.3,4.0],[104,0.25,4.4],[107,0.2,5.5],[109,0.1,8.0],[112,0,7.7],[116,0,7.9],[120,0,7.5],[124,0,7.8],[128,0,7.6],[132,0,8.0],[136,0,7.6],[140,0,7.9],[144,0,7.5],[148,0,7.8],[152,0,7.6],[156,0,7.9],[160,0,7.7],[164,0,8.0],[168,0,7.8],[172,0,8.0],[300,0,8.0]];
const fInfSAP=[[0,0.02],[100,0.02],[105,0.03],[110,0.05],[115,0.08],[120,0.12],[125,0.2],[128,0.35],[130,0.25],[133,0.4],[135,0.55],[138,0.4],[141,0.5],[143,0.35],[146,0.45],[149,0.35],[152,0.35],[155,0.3],[158,0.25],[161,0.3],[164,0.25],[167,0.3],[170,0.28],[173,0.4],[176,0.38],[179,0.45],[182,0.4],[185,0.5],[188,0.45],[190,0.55],[192,0.45],[195,0.6],[197,0.9],[200,1.2],[202,1.0],[204,0.85],[206,0.9],[208,0.75],[210,0.8],[212,1.0],[214,1.15],[216,0.9],[218,0.75],[221,0.7],[224,0.6],[227,0.5],[230,0.5],[233,0.6],[236,0.65],[240,0.75],[243,0.8],[245,0.8],[248,0.9],[251,1.0],[253,1.2],[255,1.5],[257,1.45],[259,1.3],[261,1.5],[262,2.0],[264,1.6],[266,1.5],[268,1.45],[270,1.95],[272,1.7],[274,1.45],[276,1.55],[278,1.35],[280,1.5],[282,1.4],[284,1.55],[286,1.3],[288,1.4],[290,1.25],[292,1.4],[294,1.3],[296,1.2],[298,1.1],[300,1.1]];
const fInfSAPUpper=[0.05,0.05,0.05,0.1,0.15,0.1,0.15,0.1,0.1,0.1,0.1,0.15,1.0,0.1,0.1,0.1,0.1,0.1,0.1,0.12,0.12,0.15,0.12,0.15,0.2,1.0,0.2,0.3,0.25,0.35,0.3,0.45,0.3,0.4,0.35,0.5,1.0,0.6,2.2,1.0,2.5,1.2,3.5,1.5,4.2,1.8,2.5,4.5,2.0,3.0,1.5,2.8,1.6,3.0,1.8,2.4,1.5,3.0,2.0,3.5,2.5,4.0,2.8,5.0,3.0,4.5,6.5,3.5,5.5,3.0,4.8,3.2,6.0,3.5,4.5,3.0,5.0,3.2,4.2,3.5,5.5,4.0,5.2,6.0,4.5,7.0,5.5,8.0,6.0,8.0,5.5,6.5,4.5,5.8,4.5,5.0,4.0,4.8,3.5,3.2,3.0];
const fTrSAP=[[0,0.01],[110,0.01],[120,0.03],[130,0.05],[135,0.08],[140,0.15],[145,0.12],[150,0.1],[155,0.08],[160,0.07],[165,0.06],[170,0.06],[175,0.12],[180,0.15],[183,0.3],[185,0.5],[187,0.45],[190,0.35],[193,0.3],[195,0.5],[197,0.6],[200,0.95],[202,0.7],[204,0.6],[207,0.65],[210,0.5],[213,0.5],[216,0.3],[219,0.28],[222,0.22],[225,0.3],[228,0.35],[231,0.3],[234,0.35],[237,0.3],[240,0.45],[243,0.55],[246,0.6],[249,0.75],[252,0.7],[255,1.45],[257,1.3],[259,1.2],[261,1.15],[263,1.25],[265,1.1],[267,1.35],[270,1.4],[272,1.2],[274,1.15],[277,1.05],[280,1.0],[283,0.95],[286,0.7],[289,0.8],[292,0.85],[295,0.85],[298,0.9],[300,1.0]];
const fTrSAPUpper=[0.02,0.02,0.02,0.05,0.1,0.2,0.6,0.1,0.05,0.05,0.05,0.05,0.05,0.05,0.05,0.05,0.05,0.05,0.05,0.05,0.05,0.3,0.05,0.1,0.1,0.1,0.15,0.1,0.2,0.1,0.35,0.2,0.4,0.3,0.6,0.3,0.5,0.4,1.2,0.5,1.5,0.6,1.0,2.0,0.8,1.5,2.5,1.0,2.0,1.2,2.8,1.3,2.0,1.2,2.5,1.5,3.0,1.8,3.5,2.0,3.0,2.5,4.0,2.8,4.5,3.0,5.0,3.2,4.0,3.0,5.0,3.2,4.5,3.5,4.8,3.5,5.5,4.0,5.0,4.2,5.5,4.5,6.0,4.5,6.5,7.8,5.0,6.5,4.5,6.0,4.2,5.5,4.0,5.2,3.8,4.8,3.5,4.5,3.5,3.6,3.4];
const fInfRef=[[0,0.01],[300,0.01]];
const fTrRef=[[0,0.01],[300,0.01]];

// Legend labels: [plain text, italic math, calligraphic, superscript]
const legA=[['pre-inference'],['mid-inference'],['post-inference']];
const legB=[['No projections ','S'],['Inference with ','S','\u{1D4AB}'],['Trained with ','S','\u{1D4AB}'],['Inference with ','S','\u{1D4AB}','ref'],['Trained with ','S','\u{1D4AB}','ref']];
const legC=[['No projections ','SA'],['Inference with ','SA','\u{1D4AB}'],['Trained with ','SA','\u{1D4AB}'],['Inference with ','SA','\u{1D4AB}','SA'],['Trained with ','SA','\u{1D4AB}','SA']];

// titles: [text, arrow, close]
const titles=[['Hopper Statewise Admissibility Error (','\u2193',')'],['Hopper Statewise Admissibility Error (','\u2193',')'],['Walker Statewise Admissibility Error (','\u2193',')'],['Hopper Cumulative Admissibility Error (','\u2193',')'],['Hopper Cumulative Admissibility Error (','\u2193',')'],['Walker Cumulative Admissibility Error (','\u2193',')']];
const captions=[['(a) Hopper SAE for state-action models','with different projections curricula.'],['(b) Hopper SAE for state models.'],['(c) Walker SAE for state-action models.'],['(d) Hopper CAE for state-action models','with different projections curricula.'],['(e) Hopper CAE for state models.'],['(f) Walker CAE for state-action models.']];

// ---------------- LAYOUT ----------------
const panels=[
 {xr:[73.3,423.3],yr:[290.7,30],ymax:0.0035,yt:[0,0.001,0.002,0.003],fmt:'.3f',title:titles[0],tx:248,ty:24,ylab:'SAE',ylx:23.5,yly:161,xly:330,
  series:[{c:'blue',m:aPre,b:aPreUpper},{c:'green',m:aMid,b:aMidUpper},{c:'orange',m:aPost,b:aPostUpper}],
  leg:{items:legA,cols:['blue','green','orange'],hx:[86,102.7],tx:105.3,rows:[70.5,90.8,111.1],title:'Projections',titleY:55},cap:captions[0],capx:222,capy:[376,402.5],capw:[394,348]},
 {xr:[525.7,889],yr:[308.3,38.3],ymax:0.379,yt:[0,0.1,0.2,0.3],fmt:'.1f',title:titles[1],tx:706.8,ty:31.7,ylab:'SAE',ylx:490.5,yly:173,xly:347,
  series:[{c:'blue',m:bNoProj,b:bNoProjBand},{c:'orange',m:bInfSP,b:bInfSPBand},{c:'green',m:bTrSP,b:bTrSPBand},{c:'red',m:bInfRef,b:bInfRefBand},{c:'brown',m:bTrRef,b:bTrRefBand}],
  leg:{items:legB,cols:['blue','orange','green','red','brown'],hx:[539.3,556.7],tx:558.7,rows:[59.3,80.5,101.7,123,144.3]},cap:captions[1],capx:690,capy:[390],capw:[330]},
 {xr:[991.7,1354.3],yr:[307.3,38.3],ymax:0.998,yt:[0,0.4,0.8],fmt:'.1f',title:titles[2],tx:1173.3,ty:31.7,ylab:'SAE',ylx:956,yly:173,xly:347,
  series:[{c:'blue',m:cNoProj,b:cNoProjBand},{c:'orange',m:cInfSAP},{c:'green',m:cTrSAP},{c:'red',m:cInfRef},{c:'brown',m:cTrRef}],
  leg:{items:legC,cols:['blue','orange','green','red','brown'],hx:[1005,1022.7],tx:1024.3,rows:[59.3,80.5,101.7,123,144.3]},cap:captions[2],capx:1156,capy:[390],capw:[392]},
 {xr:[59.3,422.7],yr:[715,445],ymax:0.648,yt:[0,0.2,0.4,0.6],fmt:'.1f',title:titles[3],tx:240.8,ty:438.3,ylab:'CAE',ylx:23.5,yly:579,xly:754,
  series:[{c:'blue',m:dPre,b:dPreUpper},{c:'green',m:dMid,b:dMidUpper},{c:'orange',m:dPost,b:dPostUpper}],
  leg:{items:legA,cols:['blue','green','orange'],hx:[73.3,90.7],tx:92.7,rows:[486.7,508,529.3],title:'Projections',titleY:470.7},cap:captions[3],capx:222,capy:[798.5,825],capw:[394,348]},
 {xr:[510,883.3],yr:[731.7,453.3],ymax:3.8,yt:[0,1,2,3],fmt:'d',title:titles[4],tx:697,ty:446.7,ylab:'CAE',ylx:486,yly:592,xly:771,
  series:[{c:'blue',m:eNoProj,b:eNoProjBand},{c:'orange',m:eInfSP,b:eInfSPBand},{c:'green',m:eTrSP,b:eTrSPBand},{c:'red',m:eInfRef,b:eInfRefBand},{c:'brown',m:eTrRef,b:eTrRefBand}],
  leg:{items:legB,cols:['blue','orange','green','red','brown'],hx:[524,541.7],tx:544,rows:[474.3,496.7,518.8,540.5,562.4]},cap:captions[4],capx:690,capy:[815],capw:[330]},
 {xr:[971.7,1345],yr:[731.7,453.3],ymax:8.02,yt:[0,2,4,6],fmt:'d',title:titles[5],tx:1158.2,ty:446.7,ylab:'CAE',ylx:947,yly:592,xly:771,
  series:[{c:'blue',m:fNoProj,b:fNoProjBand},{c:'orange',m:fInfSAP,b:fInfSAPUpper},{c:'green',m:fTrSAP,b:fTrSAPUpper},{c:'red',m:fInfRef},{c:'brown',m:fTrRef}],
  leg:{items:legC,cols:['blue','orange','green','red','brown'],hx:[985.7,1002.7],tx:1005.7,rows:[474.3,497,519,540.6,562.6]},cap:captions[5],capx:1156,capy:[815],capw:[392]}
];

// ---------------- DRAW ----------------
const svg=d3.select('#chart');
const defs=svg.append('defs');

function normBand(b){
  if(typeof b[0]==='number'){const n=b.length;return b.map((v,i)=>[i*300/(n-1),0,v]);}
  return b.map(d=>d.length===2?[d[0],0,d[1]]:d);
}

panels.forEach((p,pi)=>{
  const x=d3.scaleLinear().domain([0,300]).range(p.xr);
  const y=d3.scaleLinear().domain([0,p.ymax]).range(p.yr);
  const g=svg.append('g');
  const cid='clip'+pi;
  defs.append('clipPath').attr('id',cid).append('rect')
    .attr('x',p.xr[0]).attr('y',p.yr[1]).attr('width',p.xr[1]-p.xr[0]).attr('height',p.yr[0]-p.yr[1]);
  const plot=g.append('g').attr('clip-path',`url(#${cid})`);
  const area=d3.area().x(d=>x(d[0])).y0(d=>y(d[1])).y1(d=>y(d[2]));
  const line=d3.line().x(d=>x(d[0])).y(d=>y(d[1]));
  p.series.forEach(s=>{
    if(s.b) plot.append('path').datum(normBand(s.b)).attr('d',area).attr('fill',COL[s.c]).attr('fill-opacity',0.3).attr('stroke','none');
  });
  p.series.forEach(s=>{
    plot.append('path').datum(s.m).attr('d',line).attr('fill','none').attr('stroke',COL[s.c])
      .attr('stroke-width',2.8).attr('stroke-linejoin','round').attr('stroke-linecap','butt');
  });
  // axes
  const xa=g.append('g').attr('transform',`translate(0,${p.yr[0]})`)
    .call(d3.axisBottom(x).tickValues(xTicks).tickFormat(d3.format('d')).tickSize(3.5).tickSizeOuter(0).tickPadding(5));
  const ya=g.append('g').attr('transform',`translate(${p.xr[0]},0)`)
    .call(d3.axisLeft(y).tickValues(p.yt).tickFormat(d3.format(p.fmt)).tickSize(3.5).tickSizeOuter(0).tickPadding(4));
  [xa,ya].forEach(a=>{a.select('.domain').attr('stroke','#000').attr('stroke-width',1);a.selectAll('.tick line').attr('stroke','#000').attr('stroke-width',0.9);a.selectAll('.tick text').attr('fill','#000');a.attr('font-family',null).attr('font-size',null);});
  // title & labels
  const tt=g.append('text').attr('class','title').attr('x',p.tx).attr('y',p.ty).attr('text-anchor','middle');
  tt.append('tspan').text(p.title[0]);
  tt.append('tspan').attr('class','arrow').text(p.title[1]);
  tt.append('tspan').text(p.title[2]);
  g.append('text').attr('class','axlab').attr('transform',`translate(${p.ylx},${p.yly}) rotate(-90)`).attr('text-anchor','middle').text(p.ylab);
  g.append('text').attr('class','axlab').attr('x',(p.xr[0]+p.xr[1])/2).attr('y',p.xly).attr('text-anchor','middle').text('timesteps');
  // legend
  const L=p.leg;
  if(L.title) g.append('text').attr('class','leg').attr('x',L.tx).attr('y',L.titleY).text(L.title);
  L.items.forEach((it,i)=>{
    const yy=L.rows[i];
    g.append('line').attr('x1',L.hx[0]).attr('x2',L.hx[1]).attr('y1',yy).attr('y2',yy).attr('stroke',COL[L.cols[i]]).attr('stroke-width',3);
    const t=g.append('text').attr('class','leg').attr('x',L.tx).attr('y',yy+6);
    t.append('tspan').text(it[0]);
    if(it[1]) t.append('tspan').attr('class','math').text(it[1]);
    if(it[2]) t.append('tspan').attr('class','cal').text(it[2]);
    if(it[3]) t.append('tspan').attr('class','math').attr('dy',-7).style('font-size','11.5px').text(it[3]);
  });
  // caption
  p.cap.forEach((c,i)=>{
    svg.append('text').attr('class','cap').attr('x',p.capx).attr('y',p.capy[i]).attr('text-anchor','middle')
      .attr('textLength',p.capw[i]).attr('lengthAdjust','spacingAndGlyphs').text(c);
  });
});
</script></body></html>
